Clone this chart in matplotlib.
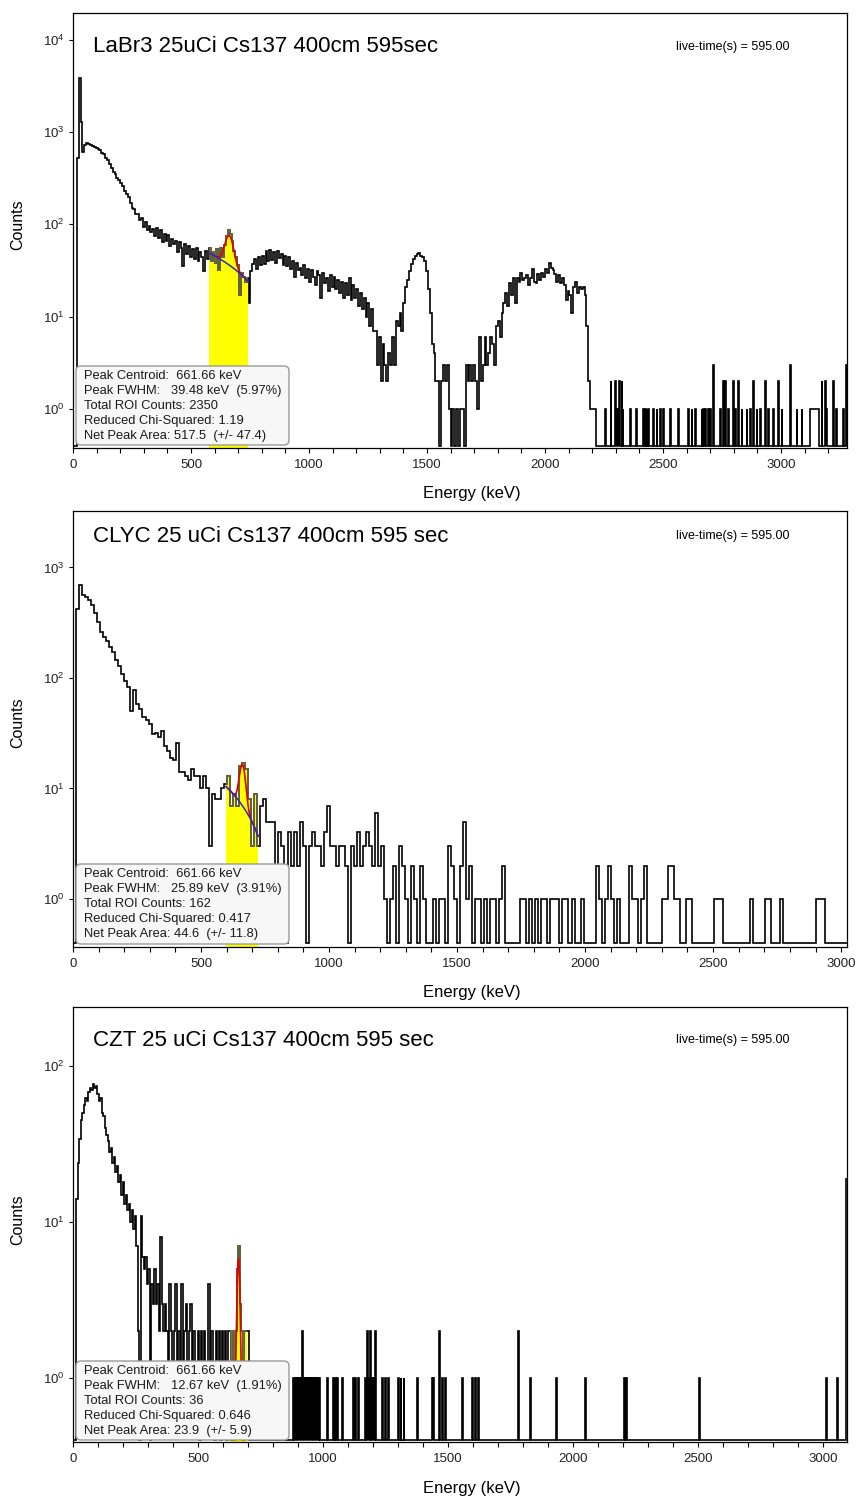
import numpy as np
import matplotlib
matplotlib.use("Agg")
import matplotlib.pyplot as plt
from matplotlib.ticker import MultipleLocator, LogLocator, LogFormatterSciNotation, NullLocator
from matplotlib.patches import FancyBboxPatch, Rectangle
from matplotlib.transforms import IdentityTransform, blended_transform_factory

plt.rcParams['font.family'] = ['Liberation Sans', 'DejaVu Sans']
plt.rcParams['mathtext.fontset'] = 'custom'
plt.rcParams['mathtext.rm'] = 'Liberation Sans'
plt.rcParams['mathtext.it'] = 'Liberation Sans:italic'
plt.rcParams['mathtext.bf'] = 'Liberation Sans:bold'
plt.rcParams['mathtext.default'] = 'regular'

# ---------------------------------------------------------------- data
# LaBr3: counts per channel, shown in 8 keV bins from 0 to 2224 keV
labr_bin_kev = 8.0
labr_counts = [
    0, 0, 520, 3900, 1300, 610, 730, 765, 745, 720,
    712, 695, 680, 655, 640, 600, 585, 530, 500, 455,
    410, 372, 350, 318, 305, 280, 262, 232, 214, 196,
    172, 150, 146, 130, 128, 112, 118, 94, 106, 88,
    96, 82, 90, 74, 92, 72, 86, 64, 78, 66,
    76, 58, 70, 62, 66, 50, 64, 56, 35, 62,
    48, 58, 44, 54, 42, 56, 40, 50, 44, 31,
    52, 42, 56, 40, 50, 38, 54, 32, 56, 44,
    60, 74, 87, 78, 66, 52, 44, 36, 17, 30,
    27, 24, 26, 14, 31, 37, 42, 33, 44, 36,
    46, 37, 52, 40, 53, 41, 50, 38, 51, 43,
    48, 36, 45, 35, 44, 33, 40, 27, 38, 32,
    34, 28, 36, 26, 33, 24, 32, 27, 22, 31,
    28, 16, 30, 23, 26, 19, 28, 21, 27, 20,
    25, 18, 24, 16, 23, 17, 26, 15, 22, 16,
    20, 13, 18, 12, 16, 10, 14, 8, 12, 7,
    7, 3, 6, 2, 5, 3, 2, 4, 3, 6,
    3, 9, 8, 11, 7, 14, 21, 25, 31, 37,
    42, 45, 48, 49, 45, 44, 40, 31, 20, 11,
    5, 4, 2, 2, 0, 2, 3, 2, 3, 1,
    0, 1, 0, 1, 0, 1, 1, 0, 3, 2,
    3, 2, 3, 2, 1, 6, 2, 3, 6, 3,
    4, 6, 5, 3, 8, 9, 6, 11, 14, 18,
    13, 23, 17, 26, 14, 26, 24, 30, 25, 26,
    28, 22, 26, 33, 24, 23, 29, 25, 30, 27,
    33, 30, 38, 34, 32, 29, 24, 28, 23, 26,
    22, 15, 19, 17, 11, 21, 24, 18, 21, 20,
    21, 17, 8, 2, 1, 1, 1, 0,
]
# LaBr3 sparse high-energy channels (keV, counts)
labr_tail_kev = [
    2254, 2278, 2297, 2301, 2311, 2315, 2325, 2329, 2360, 2386,
    2417, 2424, 2431, 2438, 2459, 2473, 2487, 2501, 2530, 2565,
    2607, 2622, 2636, 2664, 2671, 2678, 2692, 2699, 2713, 2741,
    2756, 2763, 2777, 2798, 2805, 2819, 2833, 2855, 2869, 2883,
    2897, 2911, 2932, 2946, 2968, 2989, 3003, 3038, 3066, 3088,
    3123, 3126, 3129, 3132, 3135, 3138, 3141, 3144, 3147, 3150,
    3153, 3156, 3172, 3186, 3193, 3221, 3235, 3264, 3276,
]
labr_tail_counts = [
    1, 2, 2, 1, 1, 2, 2, 1, 1, 1,
    1, 1, 1, 1, 1, 1, 1, 1, 1, 1,
    1, 1, 1, 1, 1, 1, 1, 1, 3, 1,
    2, 2, 1, 2, 1, 2, 1, 1, 1, 2,
    1, 1, 2, 1, 1, 2, 1, 3, 1, 1,
    1, 1, 1, 1, 1, 1, 1, 1, 1, 1,
    1, 1, 2, 2, 1, 2, 1, 1, 3,
]
labr_ch_kev = 3.2

# CLYC: counts per 11.8 keV bin, 0 to 3021 keV
clyc_bin_kev = 11.8
clyc_counts = [
    0, 420, 690, 560, 540, 505, 460, 390, 320, 262,
    235, 218, 190, 172, 146, 128, 108, 94, 83, 50,
    78, 58, 52, 44, 42, 38, 31, 32, 29, 33,
    24, 22, 19, 18, 26, 14, 14, 13, 12, 15,
    13, 13, 10, 13, 10, 3, 9, 8, 8, 10,
    11, 13, 7, 9, 7, 16, 17, 15, 8, 3,
    9, 3, 7, 8, 5, 5, 5, 2, 4, 3,
    0, 4, 2, 4, 2, 5, 3, 0, 3, 4,
    3, 3, 2, 4, 7, 3, 3, 2, 3, 3,
    2, 0, 3, 2, 4, 2, 3, 4, 3, 2,
    6, 2, 3, 1, 0, 1, 2, 0, 3, 2,
    1, 0, 2, 1, 0, 2, 1, 0, 0, 1,
    0, 1, 1, 0, 3, 2, 1, 0, 2, 5,
    1, 2, 0, 1, 1, 0, 1, 0, 1, 1,
    0, 1, 2, 0, 0, 0, 0, 0, 1, 1,
    0, 1, 0, 1, 0, 1, 1, 0, 1, 1,
    1, 0, 1, 1, 0, 1, 0, 0, 1, 0,
    0, 0, 0, 2, 1, 0, 1, 2, 1, 0,
    1, 0, 0, 0, 2, 1, 1, 0, 1, 2,
    0, 0, 0, 0, 0, 1, 1, 2, 2, 1,
    1, 0, 0, 1, 1, 0, 0, 0, 0, 0,
    0, 0, 1, 1, 1, 0, 0, 0, 0, 0,
    0, 0, 0, 0, 1, 0, 0, 0, 0, 1,
    1, 0, 0, 0, 1, 0, 0, 0, 0, 0,
    0, 0, 0, 0, 0, 0, 1, 1, 1, 0,
    0, 0, 0, 0, 0, 0,
]
clyc_ch_kev = 5.9

# CZT: counts per 6 keV bin, 0 to 720 keV
czt_bin_kev = 6.0
czt_counts = [
    0, 0, 14, 24, 34, 45, 50, 56, 62, 60,
    68, 72, 70, 77, 72, 74, 66, 60, 62, 50,
    48, 40, 36, 33, 28, 30, 24, 26, 21, 23,
    18, 20, 15, 18, 13, 15, 12, 13, 10, 12,
    9, 11, 7, 2, 0, 11, 6, 5, 6, 4,
    5, 0, 4, 3, 5, 3, 4, 2, 8, 3,
    2, 3, 2, 1, 4, 2, 1, 2, 4, 1,
    2, 1, 4, 1, 2, 3, 1, 2, 3, 1,
    2, 1, 1, 2, 0, 2, 1, 2, 1, 1,
    4, 1, 2, 1, 0, 2, 1, 2, 0, 2,
    1, 2, 0, 2, 2, 0, 2, 0, 2, 5,
    7, 3, 2, 0, 2, 2, 2, 0, 0, 0,
]
# CZT sparse channels above 720 keV (keV, counts)
czt_tail_kev = [
    881, 887, 893, 899, 905, 911, 917, 923, 929, 935,
    941, 947, 953, 959, 965, 971, 977, 983, 1015, 1041,
    1048, 1055, 1075, 1121, 1128, 1141, 1168, 1175, 1181, 1188,
    1195, 1201, 1208, 1235, 1248, 1261, 1301, 1310, 1322, 1375,
    1435, 1441, 1464, 1475, 1488, 1555, 1595, 1608, 1621, 1779,
    1828, 1931, 2048, 2205, 2212, 2503, 3012, 3055, 3093,
]
czt_tail_counts = [
    1, 1, 1, 1, 1, 1, 2, 1, 1, 1,
    1, 1, 1, 1, 1, 1, 1, 1, 1, 1,
    1, 1, 1, 1, 1, 1, 1, 2, 1, 2,
    1, 1, 2, 1, 1, 1, 1, 1, 1, 1,
    1, 1, 2, 1, 1, 1, 1, 1, 1, 2,
    1, 1, 1, 1, 1, 1, 1, 1, 19,
]
czt_ch_kev = 3.0

titles = ['LaBr3 25uCi Cs137 400cm 595sec',
          'CLYC 25 uCi Cs137 400cm 595 sec',
          'CZT 25 uCi Cs137 400cm 595 sec']
live_time = [595.00, 595.00, 595.00]

# Peak-fit results (centroid keV, FWHM keV, ROI counts, chi2, net area, error)
centroid = [661.66, 661.66, 661.66]
fwhm = [39.48, 25.89, 12.67]
roi_total = [2350, 162, 36]
chi2 = ['1.19', '0.417', '0.646']
net_area = [517.5, 44.6, 23.9]
net_err = [47.4, 11.8, 5.9]
roi_lo = [578, 598, 628]
roi_hi = [743, 723, 696]
bg_lo = [49.0, 10.4, 0.5]
bg_hi = [24.0, 3.7, 0.5]

x_max = [3280, 3023, 3096]
y_lims = [(0.378, 19500), (0.368, 3240), (0.389, 239)]


def build_spectrum(dense, bin_kev, tail_kev, tail_counts, ch_kev, x_end):
    edges = list(np.arange(len(dense) + 1) * bin_kev)
    vals = list(dense)
    pos = edges[-1]
    for e, n in zip(tail_kev, tail_counts):
        e = max(e, pos)
        if e > pos:
            vals.append(0)
            edges.append(e)
        vals.append(n)
        edges.append(e + ch_kev)
        pos = e + ch_kev
    if x_end > pos:
        vals.append(0)
        edges.append(x_end)
    return np.array(edges, float), np.array(vals, float)


spectra = [
    build_spectrum(labr_counts, labr_bin_kev, labr_tail_kev, labr_tail_counts, labr_ch_kev, x_max[0]),
    build_spectrum(clyc_counts, clyc_bin_kev, [], [], clyc_ch_kev, x_max[1]),
    build_spectrum(czt_counts, czt_bin_kev, czt_tail_kev, czt_tail_counts, czt_ch_kev, x_max[2]),
]
ch_kev = [labr_ch_kev, clyc_ch_kev, czt_ch_kev]

# ---------------------------------------------------------------- layout
W, H = 860, 1498
fig = plt.figure(figsize=(W / 100, H / 100), dpi=100)


def fx(px):
    return px / W


def fy(py):
    return 1 - py / H


axes_px = [(73, 847, 13, 448), (73, 847, 511, 947), (73, 847, 1007, 1442)]
title_y = [46, 536, 1040]
live_y = [47, 536, 1040]
counts_y = [225, 723, 1220]
energy_y = [493, 991, 1488]
box_px = [(76, 289, 366, 445), (76, 289, 864, 944), (76, 289, 1361, 1440)]

ROI_LINE = '#6d6d48'

for k in range(3):
    l, r, t, b = axes_px[k]
    ax = fig.add_axes([fx(l), fy(b), (r - l) / W, (b - t) / H])
    ax.set_yscale('log')
    ax.set_xlim(0, x_max[k])
    ax.set_ylim(*y_lims[k])
    floor = 0.40

    edges, vals = spectra[k]
    shown = np.where(vals > 0, vals, floor)
    ax.stairs(shown, edges, color='black', lw=1.2, baseline=None, zorder=2)

    band = blended_transform_factory(ax.transData, ax.transAxes)
    clip = Rectangle((roi_lo[k], 0), roi_hi[k] - roi_lo[k], 1, transform=band)
    fill = ax.stairs(shown, edges, fill=True, baseline=y_lims[k][0],
                     color='#ffff00', lw=0, zorder=1)
    fill.set_clip_path(clip)
    over = ax.stairs(shown, edges, color=ROI_LINE, lw=1.2, baseline=None, zorder=2.1)
    over.set_clip_path(clip)

    # Gaussian on a linear background, from the fitted peak parameters
    sigma = fwhm[k] / (2 * np.sqrt(2 * np.log(2)))
    height = net_area[k] * ch_kev[k] / (sigma * np.sqrt(2 * np.pi))
    e = np.linspace(roi_lo[k], roi_hi[k], 300)
    base = bg_lo[k] + (bg_hi[k] - bg_lo[k]) * (e - roi_lo[k]) / (roi_hi[k] - roi_lo[k])
    peak = base + height * np.exp(-0.5 * ((e - centroid[k]) / sigma) ** 2)
    ax.plot(e, peak, color='#e00000', lw=1.2, zorder=3)
    ax.plot(e, base, color='#2a2ac8', lw=1.1, zorder=3.1)

    # axes styling
    for sp in ax.spines.values():
        sp.set_linewidth(0.9)
        sp.set_color('black')
        sp.set_zorder(4)
    ax.xaxis.set_major_locator(MultipleLocator(500))
    ax.xaxis.set_minor_locator(MultipleLocator(100))
    ax.yaxis.set_major_locator(LogLocator(base=10, numticks=10))
    ax.yaxis.set_minor_locator(NullLocator())
    ax.yaxis.set_major_formatter(LogFormatterSciNotation())
    ax.tick_params(axis='x', which='both', direction='out', length=3.6, width=0.8,
                   labelsize=9.5, pad=4.5, top=False, labelcolor='#222222')
    ax.tick_params(axis='y', which='both', direction='out', length=3.0, width=0.8,
                   labelsize=9.5, pad=3, right=False, labelcolor='#222222')
    ax.set_facecolor('white')

    # info box
    bx0, bx1, by0, by1 = box_px[k]
    box = FancyBboxPatch((bx0, H - by1), bx1 - bx0, by1 - by0,
                         boxstyle='round,pad=0,rounding_size=5',
                         transform=IdentityTransform(), facecolor='#f7f7f7',
                         edgecolor='#9a9a9a', lw=1.0, zorder=5, clip_on=False)
    fig.patches.append(box)
    pct = fwhm[k] / centroid[k] * 100
    lines = [
        f'Peak Centroid:  {centroid[k]:.2f} keV',
        f'Peak FWHM:   {fwhm[k]:.2f} keV  ({pct:.2f}%)',
        f'Total ROI Counts: {roi_total[k]}',
        f'Reduced Chi-Squared: {chi2[k]}',
        f'Net Peak Area: {net_area[k]}  (+/- {net_err[k]})',
    ]
    for i, s in enumerate(lines):
        fig.text(fx(84), fy(by0 + 10 + 15 * i), s, fontsize=9.3, ha='left',
                 va='center', color='#1a1a1a', zorder=6)

    fig.text(fx(93), fy(title_y[k]), titles[k], fontsize=16, ha='left', va='center')
    fig.text(fx(790), fy(live_y[k]), f'live-time(s) = {live_time[k]:.2f}',
             fontsize=9, ha='right', va='center')
    fig.text(fx(18), fy(counts_y[k]), 'Counts', rotation=90, fontsize=11.5,
             ha='center', va='center')
    fig.text(fx(472), fy(energy_y[k] + 1), 'Energy (keV)', fontsize=12,
             ha='center', va='center')

fig.savefig('out.png', dpi=100)
